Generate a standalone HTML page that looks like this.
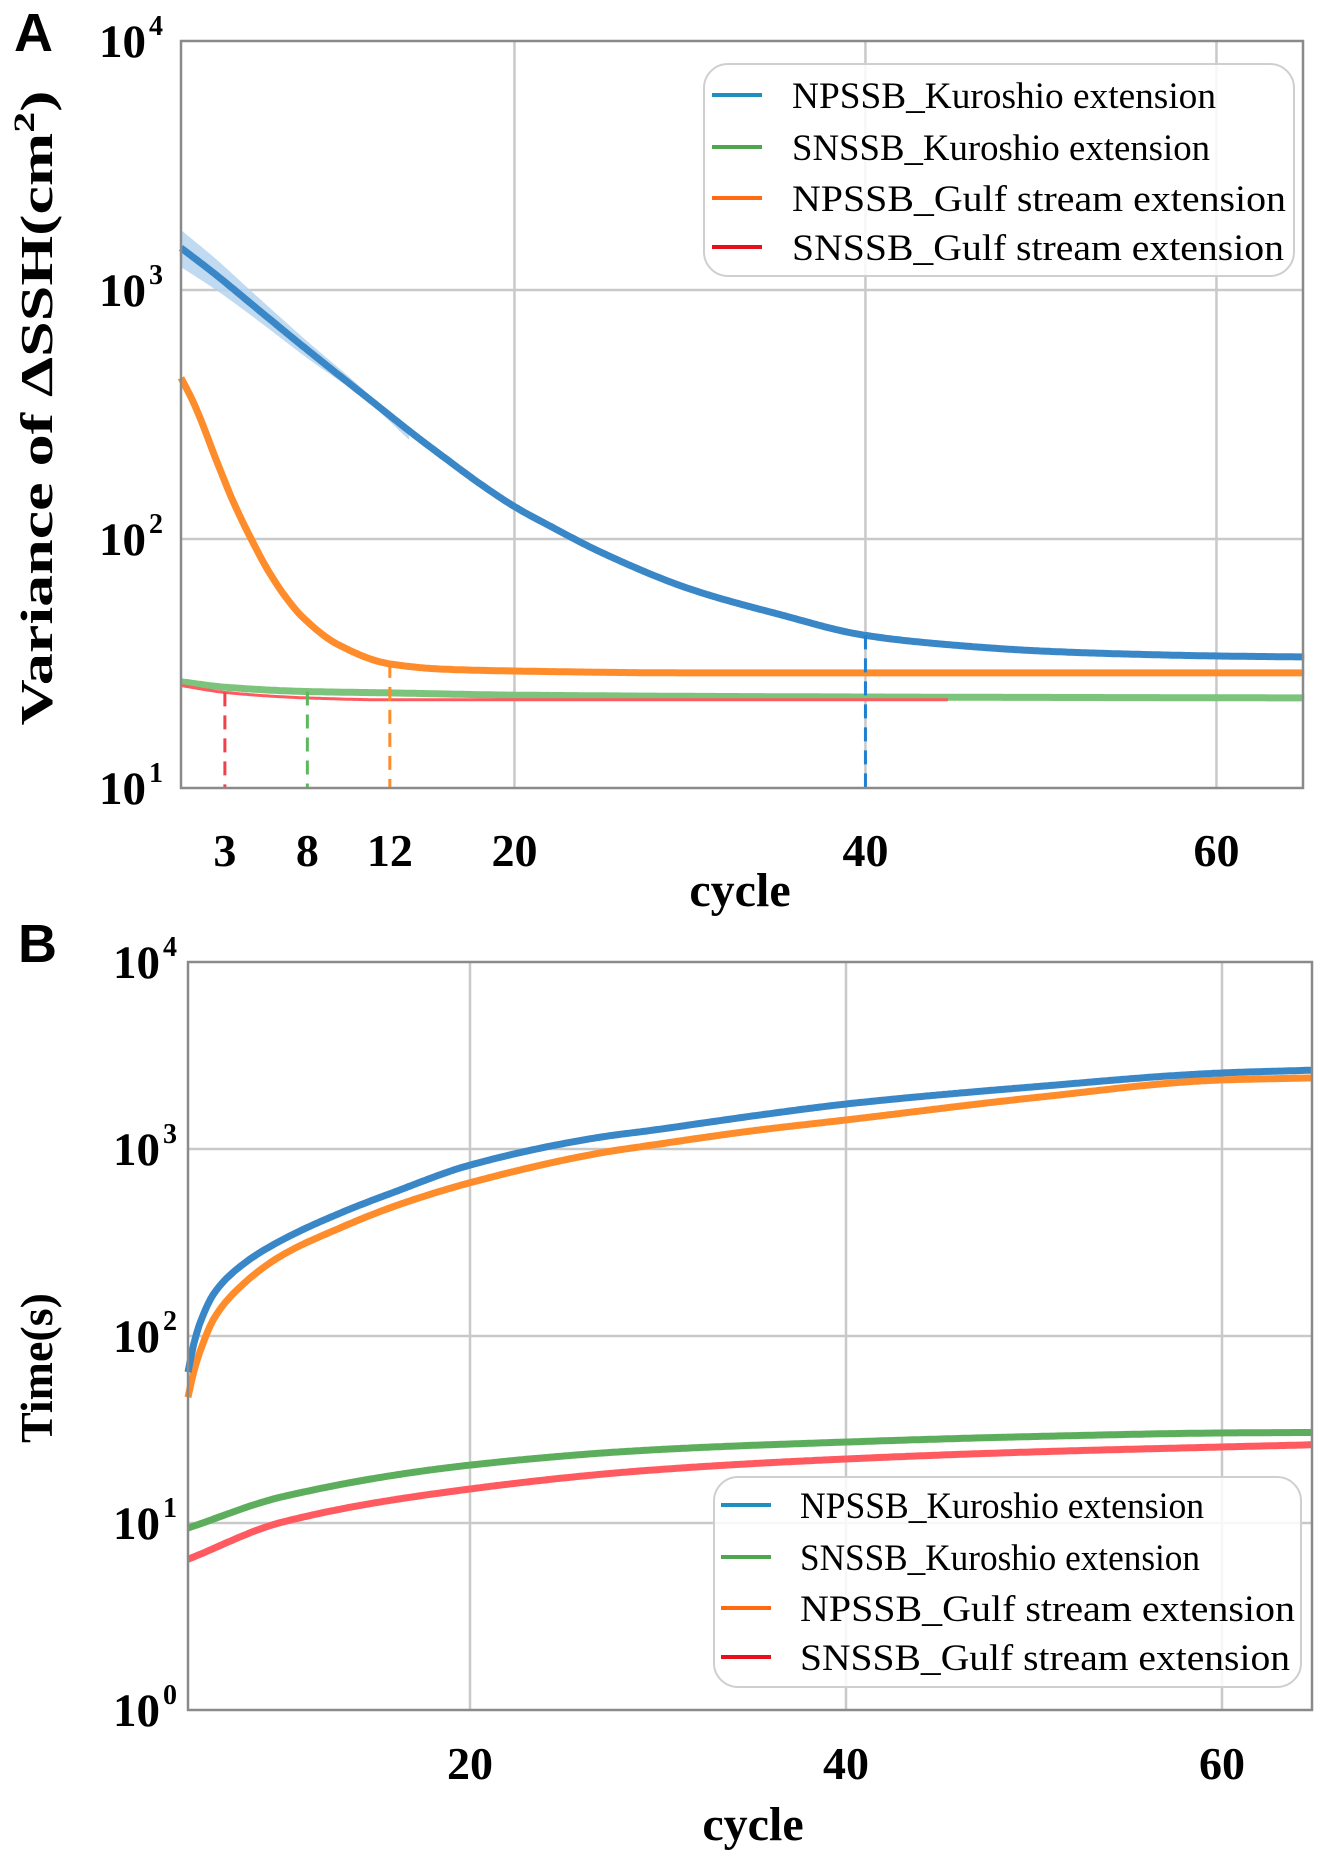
<!DOCTYPE html>
<html><head><meta charset="utf-8"><style>
html,body{margin:0;padding:0;background:#fff;}
svg{display:block;}
.tk{font-family:"Liberation Serif",serif;font-weight:bold;fill:#000;}
.lg{font-family:"Liberation Serif",serif;font-size:37px;fill:#000;}
</style></head><body>
<svg id="fig" width="1319" height="1855" viewBox="0 0 1319 1855" xmlns="http://www.w3.org/2000/svg">
<text x="14" y="51" style="font-family:'Liberation Sans',sans-serif;font-weight:bold;font-size:54px">A</text>
<text x="18" y="962" style="font-family:'Liberation Sans',sans-serif;font-weight:bold;font-size:54px">B</text>
<g id="pa"></g>
<g id="pb"></g>
</svg>
<script>
// ---- Panel A data ----
const aBlueX=[1,3,5,8,11.8,15,20,22,25,30,35,40,45,50,55,60,65];
const aBlueY=[1476,1150,880,590,361,240,135,113,88,63,50,41,37.5,35.5,34.5,33.9,33.6];
const aBandX=[1,3,5,8,11.8,14];
const aBandUp=[1742,1330,990,640,375,262];
const aBandLo=[1236,1000,790,545,348,250];
const aOrangeX=[1,1.7,3.1,4,5,6,7,8,10,12.9,16,20,30,65];
const aOrangeY=[444,355,200,140,100,74,58,48,37.5,31.5,30,29.5,29,29];
const aGreenX=[1,3.5,8.2,12.9,20,40,65];
const aGreenY=[26.7,25.4,24.4,24.1,23.6,23.2,23];
const aRedX=[1,3.5,8.2,12.9,20,44.7];
const aRedY=[25.8,24.2,23,22.6,22.6,22.6];
const aDashX=[3.5,8.2,12.9,40];
const aDashTop=[24.2,24.4,31.5,41];
const aDashLabels=["3","8","12"];
const aXTicks=[20,40,60];
const aYTicks=[4,3,2,1];
// ---- Panel B data ----
const bX=[5,5.3,5.7,6.4,8,10,13,16,20,27,29.7,35,40,50,60,64.8];
const bBlueY=[64,90,122,170,245,326,450,590,820,1160,1260,1500,1740,2150,2550,2640];
const bOrangeY=[47,64,86,125,192,270,375,495,660,955,1050,1250,1430,1880,2340,2400];
const bSmallX=[5,10,20,29.7,40,50,60,64.8];
const bGreenY=[9.4,13.8,20.4,24.6,27.1,29,30.3,30.5];
const bRedY=[6.4,10.1,15.2,19.2,22,24,25.5,26.2];
const bXTicks=[20,40,60];
const bYTicks=[4,3,2,1,0];
const legendLabels=["NPSSB_Kuroshio extension","SNSSB_Kuroshio extension","NPSSB_Gulf stream extension","SNSSB_Gulf stream extension"];

const NS="http://www.w3.org/2000/svg";
function mk(tag,attrs,parent){const e=document.createElementNS(NS,tag);for(const k in attrs)e.setAttribute(k,attrs[k]);parent.appendChild(e);return e;}
function sampleMono(xs,ys,n){const ly=ys.map(v=>Math.log10(v));const m=xs.length;const d=[],t=[];
 for(let i=0;i<m-1;i++)d.push((ly[i+1]-ly[i])/(xs[i+1]-xs[i]));
 t[0]=d[0];t[m-1]=d[m-2];
 for(let i=1;i<m-1;i++){if(d[i-1]*d[i]<=0)t[i]=0;else{const w1=2*(xs[i+1]-xs[i])+(xs[i]-xs[i-1]),w2=(xs[i+1]-xs[i])+2*(xs[i]-xs[i-1]);t[i]=(w1+w2)/(w1/d[i-1]+w2/d[i]);}}
 const out=[];const x0=xs[0],x1=xs[m-1];
 for(let k=0;k<=n;k++){const x=x0+(x1-x0)*k/n;let i=0;while(i<m-2&&x>xs[i+1])i++;
  const h=xs[i+1]-xs[i],s=(x-xs[i])/h;const h00=2*s*s*s-3*s*s+1,h10=s*s*s-2*s*s+s,h01=-2*s*s*s+3*s*s,h11=s*s*s-s*s;
  out.push([x,Math.pow(10,h00*ly[i]+h10*h*t[i]+h01*ly[i+1]+h11*h*t[i+1])]);}
 return out;}

function panel(g,cfg){
 const sx=v=>cfg.x0+(v-cfg.xmin)*cfg.kx;
 const sy=v=>cfg.ytop+(cfg.ymaxExp-Math.log10(v))*cfg.dec;
 const L=sx(cfg.xmin),R=cfg.right,T=cfg.ytop,B=sy(Math.pow(10,cfg.yminExp));
 cfg.xTicks.forEach(t=>{const l=mk('line',{x1:sx(t),x2:sx(t),y1:T,y2:B,stroke:'#c9c9c9','stroke-width':2.5},g);
  
  });
 cfg.yTicks.forEach(e=>{if(e===cfg.ymaxExp||e===cfg.yminExp)return;const y=sy(Math.pow(10,e));const l=mk('line',{x1:L,x2:R,y1:y,y2:y,stroke:'#c9c9c9','stroke-width':2.5},g);
  
  });
 return {sx,sy,L,R,T,B};
}
function frame(g,a,name){const r=mk('rect',{x:a.L,y:a.T,width:a.R-a.L,height:a.B-a.T,fill:'none',stroke:'#8a8a8a','stroke-width':2.5},g);
 
 }
function toPts(a,xs,ys){return sampleMono(xs,ys,400).map(p=>a.sx(p[0]).toFixed(1)+","+a.sy(p[1]).toFixed(1));}
function series(g,a,xs,ys,color,w,name){const p=mk('polyline',{points:toPts(a,xs,ys).join(' '),fill:'none',stroke:color,'stroke-width':w,'stroke-linejoin':'round'},g);
 
 }
function ylabels(g,a,ticks,xr){ticks.forEach(e=>{const y=a.sy(Math.pow(10,e));
 const t=mk('text',{x:xr,y:y+16,'text-anchor':'end',class:'tk','font-size':47},g);t.textContent='10';
 
 
 const s=mk('text',{x:xr+3,y:y-6,class:'tk','font-size':28,'font-weight':'normal'},g);s.textContent=String(e);
 
 });}
function legend(g,x,y,w,h,lx,tx,rows,tw){const r=mk('rect',{x:x,y:y,width:w,height:h,rx:24,fill:'rgba(255,255,255,0.85)',stroke:'#cfcfcf','stroke-width':2},g);
 
 
 const cols=['#1f8fbf','#4ea64e','#ff6a13','#e8101a'];
 legendLabels.forEach((lab,i)=>{const yy=rows[i];
  const l=mk('line',{x1:lx,x2:lx+50,y1:yy,y2:yy,stroke:cols[i],'stroke-width':4},g);
  
  
  const t=mk('text',{x:tx,y:yy+13,class:'lg',textLength:tw[i],lengthAdjust:'spacingAndGlyphs'},g);t.textContent=lab;
  
  });}

// ---------- Panel A ----------
const ga=document.getElementById('pa');
const A=panel(ga,{x0:181,xmin:1,kx:17.55,right:1303,ytop:41,ymaxExp:4,yminExp:1,dec:249,xTicks:aXTicks,yTicks:aYTicks});
(function(){const up=toPts(A,aBandX,aBandUp);const lo=toPts(A,aBandX,aBandLo).reverse();
 const p=mk('polygon',{points:up.concat(lo).join(' '),fill:'#b5d5ef','fill-opacity':0.85,stroke:'none'},ga);
 
 })();
series(ga,A,aGreenX,aGreenY,'#7cc47c',7,'snssb-kuroshio-line');
series(ga,A,aRedX,aRedY,'#ff5a60',3,'snssb-gulf-line');
series(ga,A,aOrangeX,aOrangeY,'#ff8c2a',7,'npssb-gulf-line');
series(ga,A,aBlueX,aBlueY,'#3a87c8',7,'npssb-kuroshio-line');
const dashCols=['#f0404a','#5cb85c','#ff8c2a','#1f7fd0'];
aDashX.forEach((x,i)=>{const l=mk('line',{x1:A.sx(x),x2:A.sx(x),y1:A.sy(aDashTop[i]),y2:A.B,stroke:dashCols[i],'stroke-width':3,'stroke-dasharray':'14,9'},ga);
 
 });
frame(ga,A,'panel-a-frame');
legend(ga,704,64,590,212,712,792,[95,147,198,247],[424,418,494,492]);
ylabels(ga,A,aYTicks,146);
aDashLabels.forEach((lab,i)=>{const t=mk('text',{x:A.sx(aDashX[i]),y:866,'text-anchor':'middle',class:'tk','font-size':46},ga);t.textContent=lab;
 
 });
aXTicks.forEach(v=>{const t=mk('text',{x:A.sx(v),y:866,'text-anchor':'middle',class:'tk','font-size':46},ga);t.textContent=String(v);
 
 });
(function(){const t=mk('text',{x:740,y:906,'text-anchor':'middle',class:'tk','font-size':48},ga);t.textContent='cycle';
 
 
 const y=mk('text',{x:0,y:0,'text-anchor':'middle',class:'tk','font-size':46,transform:'translate(52,408) rotate(-90)',textLength:635,lengthAdjust:'spacingAndGlyphs'},ga);
 y.innerHTML='Variance of  ΔSSH(cm<tspan dy="-18" font-size="30">2</tspan><tspan dy="18">)</tspan>';
 
 })();

// ---------- Panel B ----------
const gb=document.getElementById('pb');
const Bp=panel(gb,{x0:188,xmin:5,kx:18.8,right:1312,ytop:962,ymaxExp:4,yminExp:0,dec:187,xTicks:bXTicks,yTicks:bYTicks});
series(gb,Bp,bSmallX,bRedY,'#ff5a60',7,'snssb-gulf-time-line');
series(gb,Bp,bSmallX,bGreenY,'#5cae5c',7,'snssb-kuroshio-time-line');
series(gb,Bp,bX,bOrangeY,'#ff8c2a',7,'npssb-gulf-time-line');
series(gb,Bp,bX,bBlueY,'#3a87c8',7,'npssb-kuroshio-time-line');
frame(gb,Bp,'panel-b-frame');
legend(gb,714,1477,587,210,721,800,[1505,1557,1608,1657],[404,400,495,490]);
ylabels(gb,Bp,bYTicks,160);
bXTicks.forEach(v=>{const t=mk('text',{x:Bp.sx(v),y:1779,'text-anchor':'middle',class:'tk','font-size':46},gb);t.textContent=String(v);
 
 });
(function(){const t=mk('text',{x:753,y:1840,'text-anchor':'middle',class:'tk','font-size':48},gb);t.textContent='cycle';
 
 
 const y=mk('text',{x:0,y:0,'text-anchor':'middle',class:'tk','font-size':46,transform:'translate(52,1368) rotate(-90)'},gb);y.textContent='Time(s)';
 
 })();
</script>
</body></html>
